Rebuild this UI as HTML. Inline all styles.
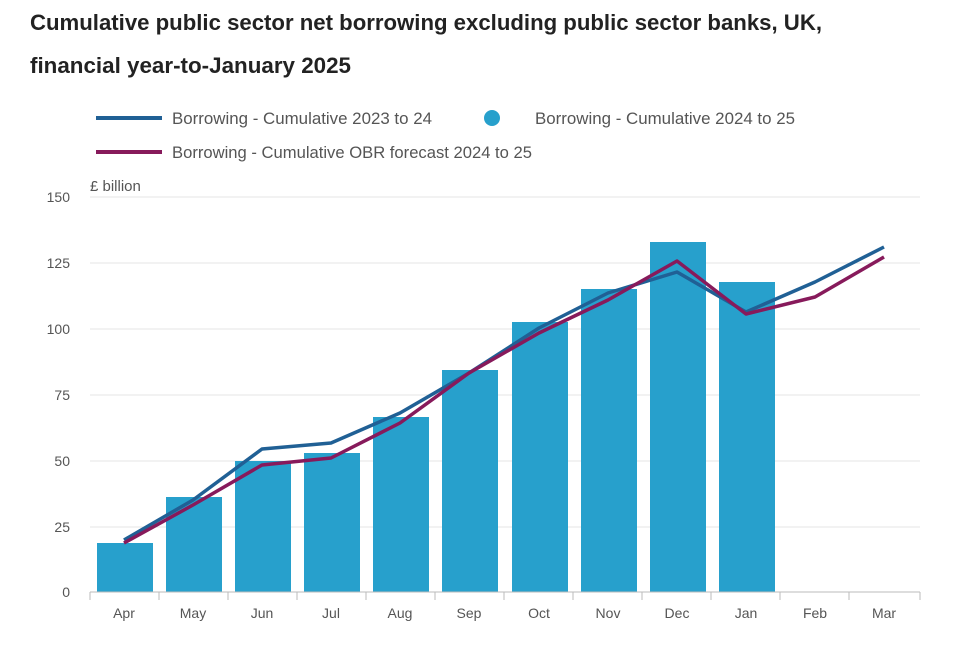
<!DOCTYPE html>
<html><head><meta charset="utf-8"><style>
body{margin:0;background:#fff;width:960px;height:640px;overflow:hidden;font-family:"Liberation Sans",sans-serif}
</style></head><body>
<svg width="960" height="640" xmlns="http://www.w3.org/2000/svg" font-family="Liberation Sans, sans-serif">
<text x="30" y="30" font-size="22" font-weight="bold" fill="#222" textLength="792" lengthAdjust="spacingAndGlyphs">Cumulative public sector net borrowing excluding public sector banks, UK,</text>
<text x="30" y="73" font-size="22" font-weight="bold" fill="#222" textLength="321" lengthAdjust="spacingAndGlyphs">financial year-to-January 2025</text>
<line x1="96" y1="118" x2="162" y2="118" stroke="#206095" stroke-width="4"/>
<text x="172" y="124" font-size="16.5" fill="#555" textLength="260" lengthAdjust="spacingAndGlyphs">Borrowing - Cumulative 2023 to 24</text>
<circle cx="492" cy="118" r="8" fill="#27a0cc"/>
<text x="535" y="124" font-size="16.5" fill="#555" textLength="260" lengthAdjust="spacingAndGlyphs">Borrowing - Cumulative 2024 to 25</text>
<line x1="96" y1="152" x2="162" y2="152" stroke="#871a5b" stroke-width="4"/>
<text x="172" y="158" font-size="16.5" fill="#555" textLength="360" lengthAdjust="spacingAndGlyphs">Borrowing - Cumulative OBR forecast 2024 to 25</text>
<text x="90" y="191" font-size="15" fill="#555">£ billion</text>
<g stroke="#e5e5e5" stroke-width="1">
<line x1="90" y1="197" x2="920" y2="197"/><line x1="90" y1="263" x2="920" y2="263"/>
<line x1="90" y1="329" x2="920" y2="329"/><line x1="90" y1="395" x2="920" y2="395"/>
<line x1="90" y1="461" x2="920" y2="461"/><line x1="90" y1="527" x2="920" y2="527"/>
</g>
<g font-size="14" fill="#555" text-anchor="end">
<text x="70" y="202">150</text><text x="70" y="268">125</text><text x="70" y="334">100</text>
<text x="70" y="400">75</text><text x="70" y="466">50</text><text x="70" y="532">25</text><text x="70" y="597">0</text>
</g>
<g fill="#27a0cc">
<rect x="97" y="543" width="56" height="49"/><rect x="166" y="497" width="56" height="95"/>
<rect x="235" y="461" width="56" height="131"/><rect x="304" y="453" width="56" height="139"/>
<rect x="373" y="417" width="56" height="175"/><rect x="442" y="370" width="56" height="222"/>
<rect x="512" y="322" width="56" height="270"/><rect x="581" y="289" width="56" height="303"/>
<rect x="650" y="242" width="56" height="350"/><rect x="719" y="282" width="56" height="310"/>
</g>
<line x1="90" y1="592" x2="920" y2="592" stroke="#bbb"/>
<g stroke="#bbb">
<line x1="90" y1="592" x2="90" y2="600"/><line x1="159" y1="592" x2="159" y2="600"/><line x1="228" y1="592" x2="228" y2="600"/>
<line x1="297" y1="592" x2="297" y2="600"/><line x1="366" y1="592" x2="366" y2="600"/><line x1="435" y1="592" x2="435" y2="600"/>
<line x1="504" y1="592" x2="504" y2="600"/><line x1="573" y1="592" x2="573" y2="600"/><line x1="642" y1="592" x2="642" y2="600"/>
<line x1="711" y1="592" x2="711" y2="600"/><line x1="780" y1="592" x2="780" y2="600"/><line x1="849" y1="592" x2="849" y2="600"/>
<line x1="920" y1="592" x2="920" y2="600"/>
</g>
<g font-size="14" fill="#555" text-anchor="middle">
<text x="124" y="618">Apr</text><text x="193" y="618">May</text><text x="262" y="618">Jun</text>
<text x="331" y="618">Jul</text><text x="400" y="618">Aug</text><text x="469" y="618">Sep</text>
<text x="539" y="618">Oct</text><text x="608" y="618">Nov</text><text x="677" y="618">Dec</text>
<text x="746" y="618">Jan</text><text x="815" y="618">Feb</text><text x="884" y="618">Mar</text>
</g>
<polyline fill="none" stroke="#206095" stroke-width="3.5" stroke-linejoin="round" points="124,540 193,500 262,449 331,443 400,413 469,373 539,328 608,293 677,272 746,312 815,282 884,247"/>
<polyline fill="none" stroke="#871a5b" stroke-width="3.5" stroke-linejoin="round" points="124,543 193,505 262,465 331,458 400,423 469,373 539,333 608,300 677,261 746,314 815,297 884,257"/>
</svg>
</body></html>
